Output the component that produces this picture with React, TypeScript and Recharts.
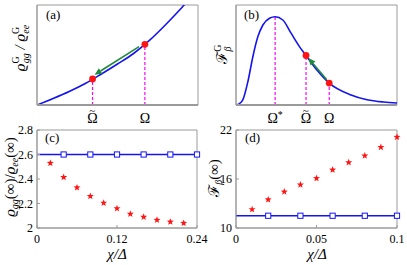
import React from 'react';
import {
  ComposedChart,
  Line,
  Scatter,
  XAxis,
  YAxis,
  ReferenceLine,
  ReferenceArea,
} from 'recharts';

const FONT = "'Liberation Serif', 'Times New Roman', 'DejaVu Serif', serif";
const FRAME = '#9a9a9a';
const BLUE = '#1414f0';
const RED = '#ff1414';
const MAGENTA = '#ff00ff';
const GREEN = '#1f8a3c';

// (a) steady-state ratio vs frequency (arbitrary units)
const aX = [0, 0.1, 0.2, 0.3, 0.4, 0.5, 0.6, 0.7, 0.8, 0.9, 1.0];
const aY = [0, 0.065, 0.135, 0.215, 0.31, 0.41, 0.515, 0.648, 0.805, 0.975, 1.16];
const aMarkX = [0.345, 0.67];
const aMarkY = [0.26, 0.607];
const aMarkLabels = ['Ω~', 'Ω'];
const aArrowFrom = { x: 0.634, y: 0.584 };
const aArrowTo = { x: 0.358, y: 0.302 };

// (b) QFI vs frequency (arbitrary units)
const bX = [0, 0.02, 0.043, 0.074, 0.105, 0.136, 0.167, 0.208, 0.243, 0.291, 0.342, 0.394, 0.435, 0.505, 0.579, 0.71, 0.814, 0.917, 1.0];
const bY = [0, 0.012, 0.053, 0.235, 0.485, 0.684, 0.8, 0.867, 0.883, 0.85, 0.718, 0.584, 0.495, 0.345, 0.219, 0.103, 0.053, 0.03, 0.02];
const bMarkX = [0.243, 0.435, 0.579];
const bMarkY = [0.883, 0.495, 0.219];
const bMarkLabels = ['Ω*', 'Ω~', 'Ω'];
const bDotX = [0.435, 0.579];
const bDotY = [0.495, 0.219];
const bArrowFrom = { x: 0.564, y: 0.252 };
const bArrowTo = { x: 0.45, y: 0.469 };

// (c)
const cStarX = [0.02, 0.04, 0.06, 0.08, 0.1, 0.12, 0.14, 0.16, 0.18, 0.2, 0.22];
const cStarY = [2.53, 2.415, 2.33, 2.26, 2.205, 2.16, 2.115, 2.09, 2.065, 2.05, 2.04];
const cSquareX = [0.04, 0.08, 0.12, 0.16, 0.2, 0.24];
const cSquareY = [2.6, 2.6, 2.6, 2.6, 2.6, 2.6];
const cXTicks = [0, 0.12, 0.24];
const cYTicks = [2, 2.2, 2.4, 2.6, 2.8];

// (d)
const dStarX = [0.01, 0.02, 0.03, 0.04, 0.05, 0.06, 0.07, 0.08, 0.09, 0.1];
const dStarY = [12.28, 13.48, 14.43, 15.3, 16.08, 17.12, 18.03, 18.85, 19.89, 21.13];
const dSquareX = [0.02, 0.04, 0.06, 0.08, 0.1];
const dSquareY = [11.5, 11.5, 11.5, 11.5, 11.5];
const dXTicks = [0, 0.05, 0.1];
const dYTicks = [10, 16, 22];

const zip = (xs: number[], ys: number[]) => xs.map((x, i) => ({ x, y: ys[i] }));

const Arrow = (p: any) => {
  const { x1, y1, x2, y2 } = p;
  const ang = Math.atan2(y2 - y1, x2 - x1);
  const L = 7;
  const W = 3.2;
  const bx = x2 - L * Math.cos(ang);
  const by = y2 - L * Math.sin(ang);
  const s = Math.sin(ang);
  const c = Math.cos(ang);
  const pts = `${x2},${y2} ${bx + W * s},${by - W * c} ${bx - W * s},${by + W * c}`;
  return (
    <g>
      <line x1={x1} y1={y1} x2={bx} y2={by} stroke={GREEN} strokeWidth={1.6} />
      <polygon points={pts} fill={GREEN} />
    </g>
  );
};

const RedDot = (p: any) => <circle cx={p.cx} cy={p.cy} r={3.4} fill={RED} />;

const Star = (p: any) => {
  const { cx, cy } = p;
  const R = 3.7;
  const r = 1.55;
  const pts: string[] = [];
  for (let k = 0; k < 10; k++) {
    const a = -Math.PI / 2 + (k * Math.PI) / 5;
    const rr = k % 2 === 0 ? R : r;
    pts.push(`${cx + rr * Math.cos(a)},${cy + rr * Math.sin(a)}`);
  }
  return <polygon points={pts.join(' ')} fill={RED} />;
};

const Square = (p: any) => (
  <rect x={p.cx - 2.6} y={p.cy - 2.6} width={5.2} height={5.2} fill="#ffffff" stroke={BLUE} strokeWidth={1} />
);

// 'Ω~' puts a tilde over the Omega, 'Ω*' a raised star
const markTick = (xs: number[], labels: string[]) => (p: any) => {
  const lab = labels[xs.indexOf(p.payload.value)] || '';
  const star = lab.endsWith('*');
  const tilde = lab.endsWith('~');
  const base = star || tilde ? lab.slice(0, -1) : lab;
  if (tilde) {
    return (
      <text x={p.x - 5.4} y={p.y} dy="0.71em" textAnchor="start" fontSize={14} fontFamily={FONT} fill="#000">
        {base}
        <tspan fontSize={11} dx={-8.3} dy={-9}>
          ~
        </tspan>
      </text>
    );
  }
  return (
    <text x={p.x} y={p.y} dy="0.71em" textAnchor="middle" fontSize={14} fontFamily={FONT} fill="#000">
      {base}
      {star && (
        <tspan fontSize={10} dy={-5}>
          *
        </tspan>
      )}
    </text>
  );
};

const numTick = { fontSize: 12, fontFamily: FONT, fill: '#000' };

function PanelA() {
  return (
    <ComposedChart width={200} height={130} margin={{ top: 5, right: 2, left: 0, bottom: 0 }}>
      <XAxis
        type="number"
        dataKey="x"
        domain={[0, 1]}
        ticks={aMarkX}
        interval={0}
        tick={markTick(aMarkX, aMarkLabels)}
        tickLine={false}
        tickSize={0}
        tickMargin={8}
        height={25}
        axisLine={{ stroke: FRAME, strokeWidth: 2 }}
        allowDataOverflow
      />
      <YAxis type="number" dataKey="y" domain={[0, 1]} tick={false} tickLine={false} width={37} axisLine={{ stroke: FRAME }} allowDataOverflow />
      <ReferenceArea x1={0} x2={1} y1={0} y2={1} fill="none" stroke={FRAME} />
      {aMarkX.map((x, i) => (
        <ReferenceLine key={x} segment={[{ x, y: 0 }, { x, y: aMarkY[i] }]} stroke={MAGENTA} strokeDasharray="3 2" strokeWidth={1.2} />
      ))}
      <Line data={zip(aX, aY)} dataKey="y" type="monotone" stroke={BLUE} strokeWidth={1.6} dot={false} isAnimationActive={false} />
      <ReferenceLine segment={[aArrowFrom, aArrowTo]} shape={Arrow} />
      <Scatter data={zip(aMarkX, aMarkY)} dataKey="y" shape={RedDot} isAnimationActive={false} />
    </ComposedChart>
  );
}

function PanelB() {
  return (
    <ComposedChart width={207} height={130} margin={{ top: 5, right: 10, left: 0, bottom: 0 }}>
      <XAxis
        type="number"
        dataKey="x"
        domain={[0, 1]}
        ticks={bMarkX}
        interval={0}
        tick={markTick(bMarkX, bMarkLabels)}
        tickLine={false}
        tickSize={0}
        tickMargin={8}
        height={25}
        axisLine={{ stroke: FRAME, strokeWidth: 2 }}
      />
      <YAxis type="number" dataKey="y" domain={[0, 1]} tick={false} tickLine={false} width={36} axisLine={{ stroke: FRAME }} />
      <ReferenceArea x1={0} x2={1} y1={0} y2={1} fill="none" stroke={FRAME} />
      {bMarkX.map((x, i) => (
        <ReferenceLine key={x} segment={[{ x, y: 0 }, { x, y: bMarkY[i] }]} stroke={MAGENTA} strokeDasharray="3 2" strokeWidth={1.2} />
      ))}
      <Line data={zip(bX, bY)} dataKey="y" type="monotone" stroke={BLUE} strokeWidth={1.6} dot={false} isAnimationActive={false} />
      <ReferenceLine segment={[bArrowFrom, bArrowTo]} shape={Arrow} />
      <Scatter data={zip(bDotX, bDotY)} dataKey="y" shape={RedDot} isAnimationActive={false} />
    </ComposedChart>
  );
}

function PanelC() {
  const line = [{ x: 0, y: cSquareY[0] }, ...zip(cSquareX, cSquareY)];
  return (
    <ComposedChart width={200} height={140} margin={{ top: 5, right: 3, left: 0, bottom: 0 }}>
      <XAxis
        type="number"
        dataKey="x"
        domain={[0, 0.24]}
        ticks={cXTicks}
        interval={0}
        tick={numTick}
        tickFormatter={(v) => String(v)}
        tickSize={-3}
        tickMargin={9}
        height={37}
        stroke={FRAME}
      />
      <YAxis
        type="number"
        dataKey="y"
        domain={[2, 2.8]}
        ticks={cYTicks}
        interval={0}
        tick={numTick}
        tickFormatter={(v) => String(v)}
        tickSize={-3}
        tickMargin={7}
        width={37}
        stroke={FRAME}
      />
      <ReferenceArea x1={0} x2={0.24} y1={2} y2={2.8} fill="none" stroke={FRAME} />
      <Line data={line} dataKey="y" type="linear" stroke={BLUE} strokeWidth={1.6} dot={false} isAnimationActive={false} />
      <Scatter data={zip(cSquareX, cSquareY)} dataKey="y" shape={Square} isAnimationActive={false} />
      <Scatter data={zip(cStarX, cStarY)} dataKey="y" shape={Star} isAnimationActive={false} />
    </ComposedChart>
  );
}

function PanelD() {
  const line = [{ x: 0, y: dSquareY[0] }, ...zip(dSquareX, dSquareY)];
  return (
    <ComposedChart width={207} height={140} margin={{ top: 5, right: 10, left: 0, bottom: 0 }}>
      <XAxis
        type="number"
        dataKey="x"
        domain={[0, 0.1]}
        ticks={dXTicks}
        interval={0}
        tick={numTick}
        tickFormatter={(v) => String(v)}
        tickSize={-3}
        tickMargin={9}
        height={37}
        stroke={FRAME}
      />
      <YAxis
        type="number"
        dataKey="y"
        domain={[10, 22]}
        ticks={dYTicks}
        interval={0}
        tick={numTick}
        tickFormatter={(v) => String(v)}
        tickSize={-3}
        tickMargin={7}
        width={36}
        stroke={FRAME}
      />
      <ReferenceArea x1={0} x2={0.1} y1={10} y2={22} fill="none" stroke={FRAME} />
      <Line data={line} dataKey="y" type="linear" stroke={BLUE} strokeWidth={1.6} dot={false} isAnimationActive={false} />
      <Scatter data={zip(dSquareX, dSquareY)} dataKey="y" shape={Square} isAnimationActive={false} />
      <Scatter data={zip(dStarX, dStarY)} dataKey="y" shape={Star} isAnimationActive={false} />
    </ComposedChart>
  );
}

// axis titles and panel tags, page coordinates
function Labels() {
  const rot = (x: number, y: number) => `translate(${x},${y}) rotate(-90)`;
  return (
    <svg width={407} height={265} style={{ position: 'absolute', left: 0, top: 0, pointerEvents: 'none' }} fontFamily={FONT}>
      <text transform={rot(25, 48)} textAnchor="middle" fontSize={15} fontStyle="italic">
        ϱ<tspan fontSize={10} fontStyle="normal" dy={-6}>G</tspan>
        <tspan fontSize={10} dx={-7} dy={10}>gg</tspan>
        <tspan fontSize={15} dy={-4}> / ϱ</tspan>
        <tspan fontSize={10} fontStyle="normal" dy={-6}>G</tspan>
        <tspan fontSize={10} dx={-7} dy={10}>ee</tspan>
      </text>
      <text transform={rot(227, 54)} textAnchor="middle" fontSize={15}>
        ℱ<tspan fontSize={10} dy={-6}>G</tspan>
        <tspan fontSize={10} fontStyle="italic" dx={-7} dy={10}>β</tspan>
      </text>
      <text transform={rot(15, 177)} textAnchor="middle" fontSize={15} fontStyle="italic">
        ϱ<tspan fontSize={10} dy={3}>gg</tspan>
        <tspan fontStyle="normal" dy={-3}>(∞)/</tspan>
        <tspan>ϱ</tspan>
        <tspan fontSize={10} dy={3}>ee</tspan>
        <tspan fontStyle="normal" dy={-3}>(∞)</tspan>
      </text>
      <text transform={rot(219, 178)} textAnchor="middle" fontSize={15}>
        ℱ<tspan fontSize={10} fontStyle="italic" dy={3}>β</tspan>
        <tspan dy={-3}>(∞)</tspan>
      </text>
      <text x={117} y={259} textAnchor="middle" fontSize={15} fontStyle="italic">
        χ/Δ
      </text>
      <text x={317} y={259} textAnchor="middle" fontSize={15} fontStyle="italic">
        χ/Δ
      </text>
      <text x={46} y={19} fontSize={13}>(a)</text>
      <text x={244} y={19} fontSize={13}>(b)</text>
      <text x={45} y={142} fontSize={13}>(c)</text>
      <text x={245} y={142} fontSize={13}>(d)</text>
    </svg>
  );
}

export default function App() {
  return (
    <div style={{ position: 'relative', width: 407, height: 265, background: '#fff', fontFamily: FONT }}>
      <style>{`body{margin:0} .recharts-surface{overflow:visible}`}</style>
      <div style={{ position: 'absolute', left: 0, top: 0 }}>
        <PanelA />
      </div>
      <div style={{ position: 'absolute', left: 200, top: 0 }}>
        <PanelB />
      </div>
      <div style={{ position: 'absolute', left: 0, top: 125 }}>
        <PanelC />
      </div>
      <div style={{ position: 'absolute', left: 200, top: 125 }}>
        <PanelD />
      </div>
      <Labels />
    </div>
  );
}
